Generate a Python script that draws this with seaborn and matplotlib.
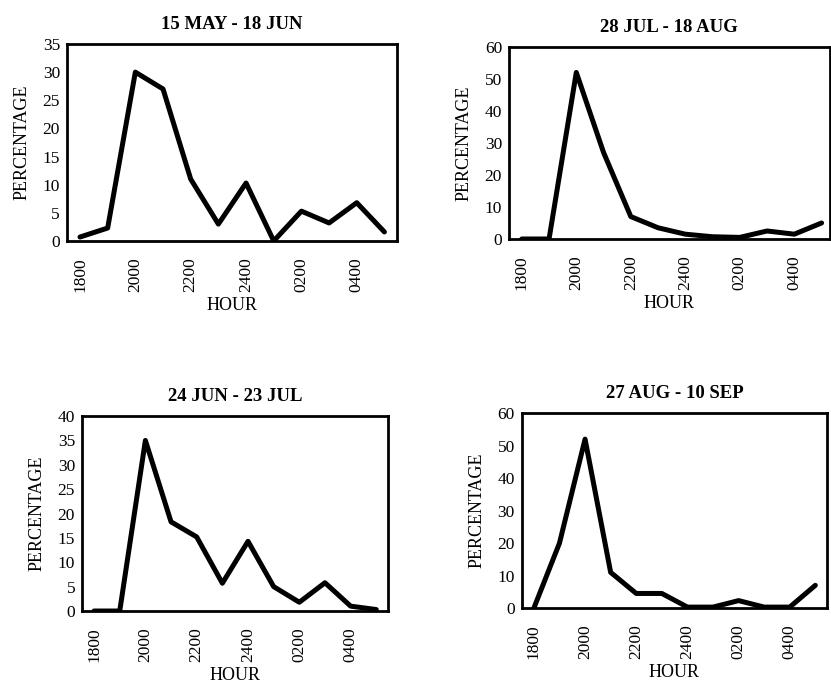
import pandas as pd
import matplotlib.pyplot as plt
import seaborn as sns

hours = ['1800', '1900', '2000', '2100', '2200', '2300',
         '2400', '0100', '0200', '0300', '0400', '0500']
tick_hours = ['1800', '2000', '2200', '2400', '0200', '0400']

# percentage of activity per hour
may_jun = [0.7, 2.3, 30, 27, 11, 3, 10.3, 0, 5.3, 3.2, 6.8, 1.6]
jul_aug = [0, 0, 52, 27, 7, 3.5, 1.5, 0.7, 0.5, 2.5, 1.5, 5]
jun_jul = [0, 0, 35, 18.3, 15.2, 5.7, 14.3, 5, 1.8, 5.8, 1, 0.3]
aug_sep = [0, 20, 52, 11, 4.5, 4.5, 0.3, 0.3, 2.3, 0.3, 0.3, 7]

titles = ['15 MAY - 18 JUN', '28 JUL - 18 AUG', '24 JUN - 23 JUL', '27 AUG - 10 SEP']
series = [may_jun, jul_aug, jun_jul, aug_sep]
ymax = [35, 60, 40, 60]
ystep = [5, 10, 5, 10]

sns.set_style('white')
plt.rcParams['font.family'] = ['Liberation Serif', 'DejaVu Serif']
plt.rcParams['text.color'] = 'black'
plt.rcParams['axes.labelcolor'] = 'black'

fig = plt.figure(figsize=(8.31, 6.84), dpi=100)
# panel positions [left, bottom, width, height]
boxes = [[0.0806, 0.6477, 0.397, 0.288],
         [0.6125, 0.6506, 0.386, 0.281],
         [0.0987, 0.1067, 0.368, 0.285],
         [0.628, 0.111, 0.367, 0.285]]

for i in range(4):
    ax = fig.add_axes(boxes[i])
    df = pd.DataFrame({'hour': hours, 'pct': series[i]})
    sns.lineplot(data=df, x='hour', y='pct', color='black',
                 linewidth=3.6, sort=False, ax=ax)
    ax.set_ylim(0, ymax[i])
    ax.set_yticks(range(0, ymax[i] + 1, ystep[i]))
    if i == 1:
        ax.set_xlim(-0.47, 11.3)
    else:
        ax.set_xlim(-0.47, 11.45)
    ax.set_xticks([hours.index(h) for h in tick_hours])
    ax.set_xticklabels(tick_hours, rotation=90)
    ax.tick_params(axis='both', labelsize=12.5, direction='out', length=3,
                   width=1, color='black', labelcolor='black')
    ax.tick_params(axis='x', pad=9)
    ax.tick_params(axis='y', pad=2)
    for s in ax.spines.values():
        s.set_linewidth(2)
        s.set_color('black')
    ax.set_xlabel('HOUR', fontsize=13, labelpad=3)
    ax.set_ylabel('PERCENTAGE', fontsize=13, labelpad=9)
    ax.set_title(titles[i], fontsize=13.5, fontweight='bold', pad=11)

fig.savefig('out.png', dpi=100, facecolor='white')
